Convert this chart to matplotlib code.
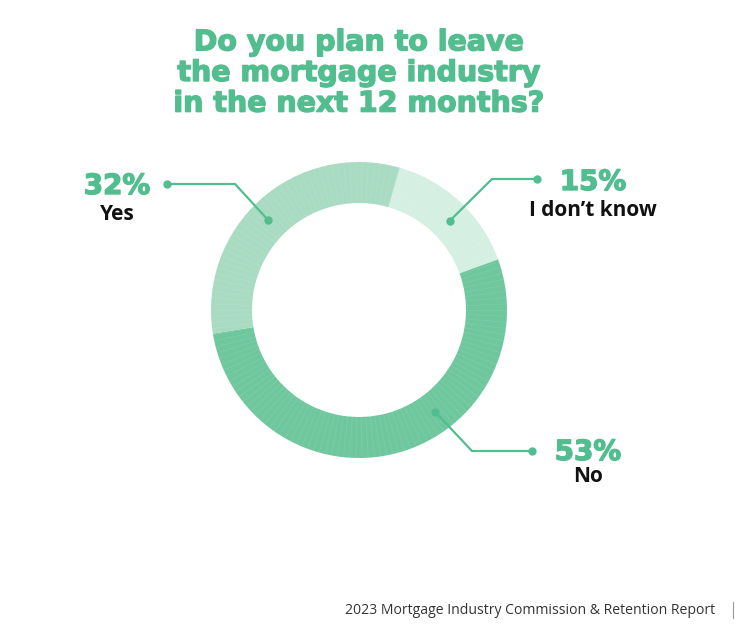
import numpy as np
import matplotlib
matplotlib.use("Agg")
import matplotlib.pyplot as plt
import matplotlib.patheffects as pe

# ---- data ----
categories = ["I don\u2019t know", "No", "Yes"]
values = [15, 53, 32]
pct_labels = ["15%", "53%", "32%"]
colors = ["#d5efe3", "#6fc79e", "#a8dbc2"]
title = "Do you plan to leave\nthe mortgage industry\nin the next 12 months?"
footer = "2023 Mortgage Industry Commission & Retention Report"

GREEN = "#52bd8e"
HEAVY = "DejaVu Sans"
W, H = 749, 636
fig = plt.figure(figsize=(W / 100, H / 100), dpi=100)
ax = fig.add_axes([0, 0, 1, 1])

cx, cy = 359, H - 310
R_out, R_in = 148, 107
start = 74  # degrees, matplotlib convention

wedges, _ = ax.pie(values, colors=colors, startangle=start, counterclock=False,
                   radius=R_out, center=(cx, cy),
                   wedgeprops=dict(width=R_out - R_in, linewidth=0))

# subtle radial texture lines
for ang in np.arange(0, 360, 2.4):
    t = np.deg2rad(ang)
    ax.plot([cx + R_in * np.cos(t), cx + R_out * np.cos(t)],
            [cy + R_in * np.sin(t), cy + R_out * np.sin(t)],
            color="white", lw=0.4, alpha=0.15, zorder=3)

thick = [pe.withStroke(linewidth=1.0, foreground=GREEN)]

# annotation layout (per category): dot angle (clockwise from top), elbow, end, text pos
ann = {
    "I don\u2019t know": dict(dot_ang=45.5, elbow=(492, 179), end=(537, 179), text_x=593, pct_y=182, lab_y=211),
    "No": dict(dot_ang=143.2, elbow=(472, 451), end=(532, 451), text_x=588, pct_y=452, lab_y=477),
    "Yes": dict(dot_ang=314.7, elbow=(235, 184), end=(167, 184), text_x=117, pct_y=186, lab_y=214),
}
r_mid = (R_out + R_in) / 2
for cat, pct in zip(categories, pct_labels):
    a = ann[cat]
    t = np.deg2rad(a["dot_ang"])
    dx, dy = cx + r_mid * np.sin(t), cy + r_mid * np.cos(t)
    ex, ey = a["elbow"][0], H - a["elbow"][1]
    fx, fy = a["end"][0], H - a["end"][1]
    ax.plot([dx, ex, fx], [dy, ey, fy], color=GREEN, lw=1.6, zorder=5,
            solid_joinstyle="miter")
    ax.scatter([dx, fx], [dy, fy], s=36, color=GREEN, zorder=6, linewidths=0)
    ax.text(a["text_x"], H - a["pct_y"], pct, ha="center", va="center",
            fontsize=20, color=GREEN, family=HEAVY, weight="bold",
            path_effects=thick)
    ax.text(a["text_x"], H - a["lab_y"], cat, ha="center", va="center",
            fontsize=15, color="#111111", family="Open Sans", weight="bold")

# title
ax.text(359, H - 73, title, ha="center", va="center", fontsize=20.5,
        color=GREEN, family=HEAVY, weight="bold", linespacing=1.12,
        path_effects=thick)

# footer
ax.text(715, H - 610, footer, ha="right", va="center", fontsize=10.1,
        color="#333333", family="Open Sans")
ax.plot([733, 733], [H - 602, H - 618], color="#999999", lw=0.8)

ax.set_xlim(0, W)
ax.set_ylim(0, H)
ax.set_aspect("equal")
ax.axis("off")
fig.savefig("out.png", dpi=100, facecolor="white")
